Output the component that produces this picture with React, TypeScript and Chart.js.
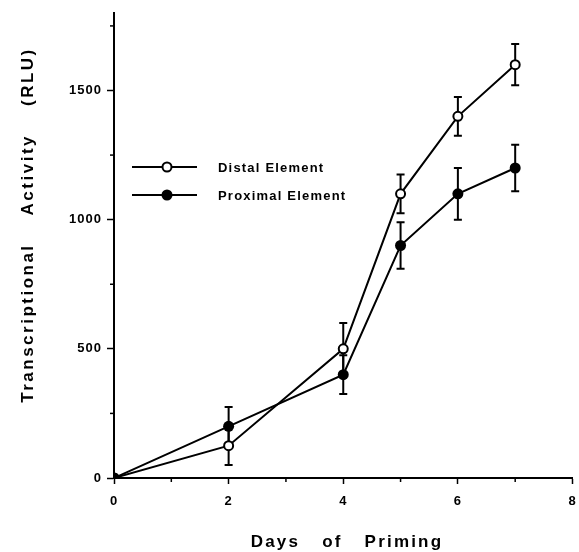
import React, { useEffect, useRef } from "react";
import { Chart, registerables } from "chart.js";

Chart.register(...registerables);

const days = [0, 2, 4, 5, 6, 7];
const distal = [0, 125, 500, 1100, 1400, 1600];
const distalErr = [0, 75, 100, 75, 75, 80];
const proximal = [0, 200, 400, 900, 1100, 1200];
const proximalErr = [0, 75, 75, 90, 100, 90];

const xMajor = [0, 2, 4, 6, 8];
const xMinor = [1, 3, 5, 7];
const yMajor = [0, 500, 1000, 1500];
const yMinor = [250, 750, 1250, 1750];

const seriesNames = ["Distal Element", "Proximal Element"];
const xTitleWords = ["Days", "of", "Priming"];
const yTitleWords = ["Transcriptional", "Activity", "(RLU)"];

const FONT = "'Liberation Sans', Arial, sans-serif";

function drawMarker(ctx: CanvasRenderingContext2D, x: number, y: number, filled: boolean) {
  ctx.beginPath();
  if (filled) {
    ctx.arc(x, y, 5.5, 0, Math.PI * 2);
    ctx.fillStyle = "#000";
    ctx.fill();
  } else {
    ctx.arc(x, y, 4.5, 0, Math.PI * 2);
    ctx.fillStyle = "#fff";
    ctx.fill();
    ctx.lineWidth = 2;
    ctx.strokeStyle = "#000";
    ctx.stroke();
  }
}

function drawWords(ctx: CanvasRenderingContext2D, words: string[], gap: number) {
  const widths = words.map((w) => ctx.measureText(w).width);
  const total = widths.reduce((a, b) => a + b, 0) + gap * (words.length - 1);
  let pos = -total / 2;
  words.forEach((w, i) => {
    ctx.fillText(w, pos, 0);
    pos += widths[i] + gap;
  });
}

const decor = {
  id: "decor",
  beforeDraw(chart: any) {
    chart.ctx.letterSpacing = "1px";
  },
  beforeDatasetsDraw(chart: any) {
    const ctx = chart.ctx as CanvasRenderingContext2D;
    const xs = chart.scales.x;
    const ys = chart.scales.y;
    ctx.save();
    ctx.strokeStyle = "#000";
    ctx.lineWidth = 2;
    const bars = [
      [distal, distalErr],
      [proximal, proximalErr],
    ];
    bars.forEach(([vals, errs]) => {
      vals.forEach((v, i) => {
        const e = errs[i];
        if (!e) return;
        const px = xs.getPixelForValue(days[i]);
        const top = ys.getPixelForValue(v + e);
        const bot = ys.getPixelForValue(v - e);
        ctx.beginPath();
        ctx.moveTo(px, top);
        ctx.lineTo(px, bot);
        ctx.moveTo(px - 4, top);
        ctx.lineTo(px + 4, top);
        ctx.moveTo(px - 4, bot);
        ctx.lineTo(px + 4, bot);
        ctx.stroke();
      });
    });
    ctx.restore();
  },
  afterDraw(chart: any) {
    const ctx = chart.ctx as CanvasRenderingContext2D;
    const xs = chart.scales.x;
    const ys = chart.scales.y;
    const area = chart.chartArea;
    ctx.save();
    ctx.strokeStyle = "#000";
    ctx.lineWidth = 1.5;
    // minor ticks
    xMinor.forEach((v) => {
      const px = xs.getPixelForValue(v);
      ctx.beginPath();
      ctx.moveTo(px, area.bottom);
      ctx.lineTo(px, area.bottom + 4);
      ctx.stroke();
    });
    yMinor.forEach((v) => {
      const py = ys.getPixelForValue(v);
      ctx.beginPath();
      ctx.moveTo(area.left, py);
      ctx.lineTo(area.left - 4, py);
      ctx.stroke();
    });

    // titles
    ctx.fillStyle = "#000";
    ctx.font = `bold 17px ${FONT}`;
    (ctx as any).letterSpacing = "2.2px";
    ctx.textBaseline = "alphabetic";
    ctx.textAlign = "left";
    ctx.save();
    ctx.translate(347, 547);
    drawWords(ctx, xTitleWords, 22);
    ctx.restore();
    (ctx as any).letterSpacing = "2.5px";
    ctx.save();
    ctx.translate(33, 225);
    ctx.rotate(-Math.PI / 2);
    drawWords(ctx, yTitleWords, 28);
    ctx.restore();

    // legend
    const lx0 = 132;
    const lx1 = 197;
    const mx = 167;
    const rows = [167, 195];
    ctx.font = `bold 13px ${FONT}`;
    (ctx as any).letterSpacing = "1.2px";
    ctx.textBaseline = "middle";
    rows.forEach((ry, i) => {
      ctx.beginPath();
      ctx.lineWidth = 2;
      ctx.moveTo(lx0, ry);
      ctx.lineTo(lx1, ry);
      ctx.stroke();
      drawMarker(ctx, mx, ry, i === 1);
      ctx.fillStyle = "#000";
      ctx.fillText(seriesNames[i], 218, ry + 1);
    });
    ctx.restore();
  },
};

export default function App() {
  const ref = useRef<HTMLCanvasElement>(null);
  useEffect(() => {
    if (!ref.current) return;
    const chart = new Chart(ref.current, {
      type: "line",
      data: {
        datasets: [
          {
            label: seriesNames[0],
            data: days.map((d, i) => ({ x: d, y: distal[i] })),
            borderColor: "#000",
            borderWidth: 2,
            pointRadius: 4.5,
            pointBorderWidth: 2,
            pointBackgroundColor: "#fff",
            pointBorderColor: "#000",
            tension: 0,
            order: 2,
          },
          {
            label: seriesNames[1],
            data: days.map((d, i) => ({ x: d, y: proximal[i] })),
            borderColor: "#000",
            borderWidth: 2,
            pointRadius: 5.5,
            pointBorderWidth: 0,
            pointBackgroundColor: "#000",
            pointBorderColor: "#000",
            tension: 0,
            order: 1,
          },
        ],
      },
      options: {
        responsive: false,
        animation: false,
        events: [],
        layout: { padding: { top: 13, right: 5, left: 0, bottom: 0 } },
        plugins: { legend: { display: false }, tooltip: { enabled: false } },
        scales: {
          x: {
            type: "linear",
            min: 0,
            max: 8,
            afterBuildTicks: (s: any) => {
              s.ticks = xMajor.map((v) => ({ value: v }));
            },
            afterFit: (s: any) => {
              s.height = 74;
              s.paddingLeft = 0;
              s.paddingRight = 0;
            },
            ticks: {
              color: "#000",
              font: { family: FONT, size: 13, weight: "bold" },
              padding: 10,
              maxRotation: 0,
              callback: (v: any) => String(v),
            },
            grid: {
              drawOnChartArea: false,
              tickLength: 6,
              tickColor: "#000",
              tickWidth: 1.5,
            },
            border: { color: "#000", width: 2 },
          },
          y: {
            type: "linear",
            min: 0,
            max: 1800,
            afterBuildTicks: (s: any) => {
              s.ticks = yMajor.map((v) => ({ value: v }));
            },
            afterFit: (s: any) => {
              s.width = 114;
              s.paddingTop = 0;
              s.paddingBottom = 0;
            },
            ticks: {
              color: "#000",
              font: { family: FONT, size: 13, weight: "bold" },
              padding: 5,
              callback: (v: any) => String(v),
            },
            grid: {
              drawOnChartArea: false,
              tickLength: 7,
              tickColor: "#000",
              tickWidth: 1.5,
            },
            border: { color: "#000", width: 2 },
          },
        },
      },
      plugins: [decor],
    } as any);
    return () => chart.destroy();
  }, []);
  return (
    <div style={{ position: "absolute", left: 0, top: 0, width: 579, height: 552, background: "#fff" }}>
      <canvas ref={ref} width={579} height={552} style={{ display: "block" }} />
    </div>
  );
}
